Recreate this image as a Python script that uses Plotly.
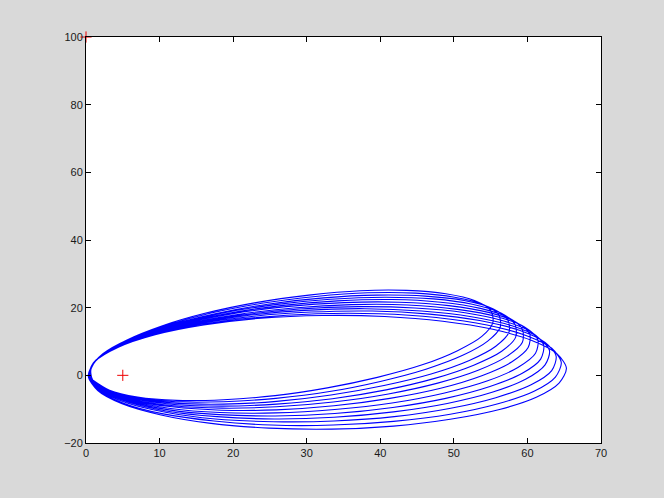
import plotly.graph_objects as go

# Orbit trajectory, one list pair per revolution
X0=[1,3.2,7,12.3,18.7,25.7,32.8,39.6,45.7,50.5,53.8,55.3,55,52.8,48.9,43.6,37.3,30.3,23.1,16.3,10.3,5.5,2.2,0.7]
Y0=[-1.5,-4.4,-6.4,-7.4,-7.2,-6,-3.7,-0.6,3.1,7.3,11.5,15.6,19.2,22.1,24.1,25.1,25,23.7,21.5,18.4,14.6,10.4,6.2,2.1]
X1=[0.9,3.1,6.9,12.2,18.7,25.8,33.1,40,46.2,51.2,54.6,56.3,56.1,53.9,50.1,44.8,38.3,31.2,23.9,17,10.8,5.8,2.3,0.7]
Y1=[-1.4,-4.4,-6.6,-7.8,-7.8,-6.8,-4.8,-1.8,1.8,5.9,10.1,14.2,17.9,21,23.1,24.3,24.4,23.3,21.3,18.4,14.7,10.7,6.4,2.3]
X2=[0.9,2.9,6.8,12.1,18.7,25.9,33.3,40.5,46.9,52.1,55.7,57.5,57.3,55.3,51.4,46.1,39.5,32.3,24.9,17.7,11.3,6.1,2.5,0.7]
Y2=[-1.3,-4.4,-6.8,-8.2,-8.5,-7.7,-5.8,-3,0.4,4.4,8.6,12.8,16.5,19.7,22.1,23.4,23.7,22.9,21.1,18.3,14.8,10.9,6.7,2.5]
X3=[0.8,2.8,6.6,12,18.6,25.9,33.5,40.8,47.4,52.7,56.5,58.4,58.3,56.4,52.5,47.2,40.6,33.2,25.7,18.3,11.8,6.5,2.7,0.8]
Y3=[-1.1,-4.5,-7,-8.6,-9.1,-8.5,-6.9,-4.3,-0.9,3,7.1,11.3,15.1,18.4,21,22.6,23.1,22.5,20.9,18.3,14.9,11,6.9,2.7]
X4=[0.7,2.7,6.5,11.9,18.5,25.9,33.6,41.1,47.8,53.3,57.2,59.3,59.3,57.4,53.6,48.2,41.6,34.2,26.5,19,12.3,6.8,2.9,0.8]
Y4=[-1,-4.5,-7.2,-9,-9.7,-9.3,-7.9,-5.5,-2.3,1.5,5.6,9.7,13.7,17.1,19.8,21.6,22.4,22,20.6,18.2,15,11.2,7.1,2.9]
X5=[0.7,2.5,6.3,11.7,18.4,25.9,33.7,41.3,48.2,53.8,57.9,60.1,60.3,58.4,54.7,49.3,42.6,35.1,27.2,19.6,12.8,7.1,3.1,0.9]
Y5=[-0.9,-4.5,-7.4,-9.3,-10.3,-10.2,-9,-6.8,-3.8,-0.1,4,8.2,12.2,15.8,18.6,20.6,21.6,21.5,20.3,18.1,15.1,11.4,7.3,3.1]
X6=[0.6,2.4,6.1,11.5,18.2,25.8,33.8,41.6,48.6,54.5,58.7,61.1,61.4,59.6,55.9,50.5,43.7,36.1,28.2,20.4,13.4,7.5,3.3,0.9]
Y6=[-0.8,-4.5,-7.5,-9.8,-11,-11.1,-10.1,-8.2,-5.3,-1.7,2.3,6.5,10.6,14.3,17.3,19.5,20.8,20.9,19.9,17.9,15.1,11.5,7.5,3.3]
X7=[0.6,2.2,5.9,11.3,18.1,25.7,33.8,41.7,48.9,54.9,59.3,61.8,62.2,60.5,56.9,51.5,44.7,37,29,21.1,13.9,7.9,3.5,1]
Y7=[-0.7,-4.5,-7.7,-10.2,-11.6,-12,-11.3,-9.5,-6.8,-3.3,0.6,4.8,9,12.8,16,18.5,19.9,20.3,19.6,17.8,15.1,11.6,7.7,3.5]
X8=[0.5,2.1,5.7,11.1,17.8,25.6,33.7,41.8,49.1,55.2,59.8,62.4,63,61.4,57.8,52.4,45.6,37.9,29.7,21.7,14.4,8.2,3.7,1]
Y8=[-0.6,-4.5,-7.9,-10.6,-12.2,-12.9,-12.4,-10.8,-8.3,-5,-1.1,3.1,7.3,11.3,14.7,17.3,19,19.7,19.2,17.6,15.1,11.8,7.9,3.7]
X9=[0.4,1.9,5.5,10.8,17.6,25.5,33.7,41.9,49.4,55.7,60.5,63.3,63.9,62.4,58.9,53.5,46.7,38.9,30.6,22.5,15,8.6,3.9,1.1]
Y9=[-0.4,-4.5,-8.1,-10.9,-12.9,-13.7,-13.5,-12.2,-9.8,-6.6,-2.8,1.4,5.7,9.7,13.3,16.2,18.1,19,18.7,17.4,15.1,11.9,8,3.8]
X10=[0.4,1.7,5.2,10.5,17.4,25.2,33.6,41.8,49.5,56,60.9,63.8,64.6,63.3,59.8,54.5,47.6,39.8,31.4,23.2,15.5,9,4.1,1.2]
Y10=[-0.3,-4.5,-8.3,-11.4,-13.5,-14.7,-14.7,-13.6,-11.5,-8.4,-4.7,-0.5,3.8,8,11.8,14.9,17.1,18.2,18.2,17.1,15,11.9,8.2,4]
X11=[0.3,1.6,4.9,10.2,17,24.9,33.4,41.8,49.5,56.2,61.2,64.3,65.3,64,60.6,55.3,48.5,40.6,32.2,23.8,16,9.4,4.4,1.3,0.3]
Y11=[-0.2,-4.5,-8.4,-11.7,-14.2,-15.6,-15.9,-15,-13,-10.1,-6.5,-2.3,2.1,6.4,10.3,13.6,16,17.4,17.7,16.9,14.9,12,8.3,4.2,-0.2]

# Red "+" markers
mark_x = [0, 5]
mark_y = [100, 0]

x_ticks = [0, 10, 20, 30, 40, 50, 60, 70]
y_ticks = [-20, 0, 20, 40, 60, 80, 100]

orbit_x = X0+X1+X2+X3+X4+X5+X6+X7+X8+X9+X10+X11
orbit_y = Y0+Y1+Y2+Y3+Y4+Y5+Y6+Y7+Y8+Y9+Y10+Y11

fig = go.Figure()
fig.add_trace(go.Scatter(x=orbit_x, y=orbit_y, mode="lines",
                         line=dict(color="#0000ff", width=1.1, shape="spline", smoothing=0.8),
                         showlegend=False, hoverinfo="skip"))
fig.add_trace(go.Scatter(x=mark_x, y=mark_y, mode="markers", cliponaxis=False,
                         marker=dict(symbol="cross-thin", size=8, line=dict(color="#ee0000", width=1)),
                         showlegend=False))

axis_common = dict(showline=True, linecolor="black", linewidth=1, mirror="ticks",
                   ticks="inside", ticklen=5, tickcolor="black", showgrid=False,
                   zeroline=False, tickfont=dict(family="Liberation Sans, Arial, sans-serif",
                                                 size=11, color="#1a1a1a"))
fig.update_xaxes(range=[0, 70], tickvals=x_ticks, **axis_common)
fig.update_yaxes(range=[-20, 100], tickvals=y_ticks, **axis_common)
fig.update_layout(width=664, height=498,
                  margin=dict(l=86, r=63, t=37, b=55),
                  paper_bgcolor="#d9d9d9", plot_bgcolor="white")
fig.write_html("out.html", config={"displayModeBar": False},
               post_script="document.body.style.margin='0';")
